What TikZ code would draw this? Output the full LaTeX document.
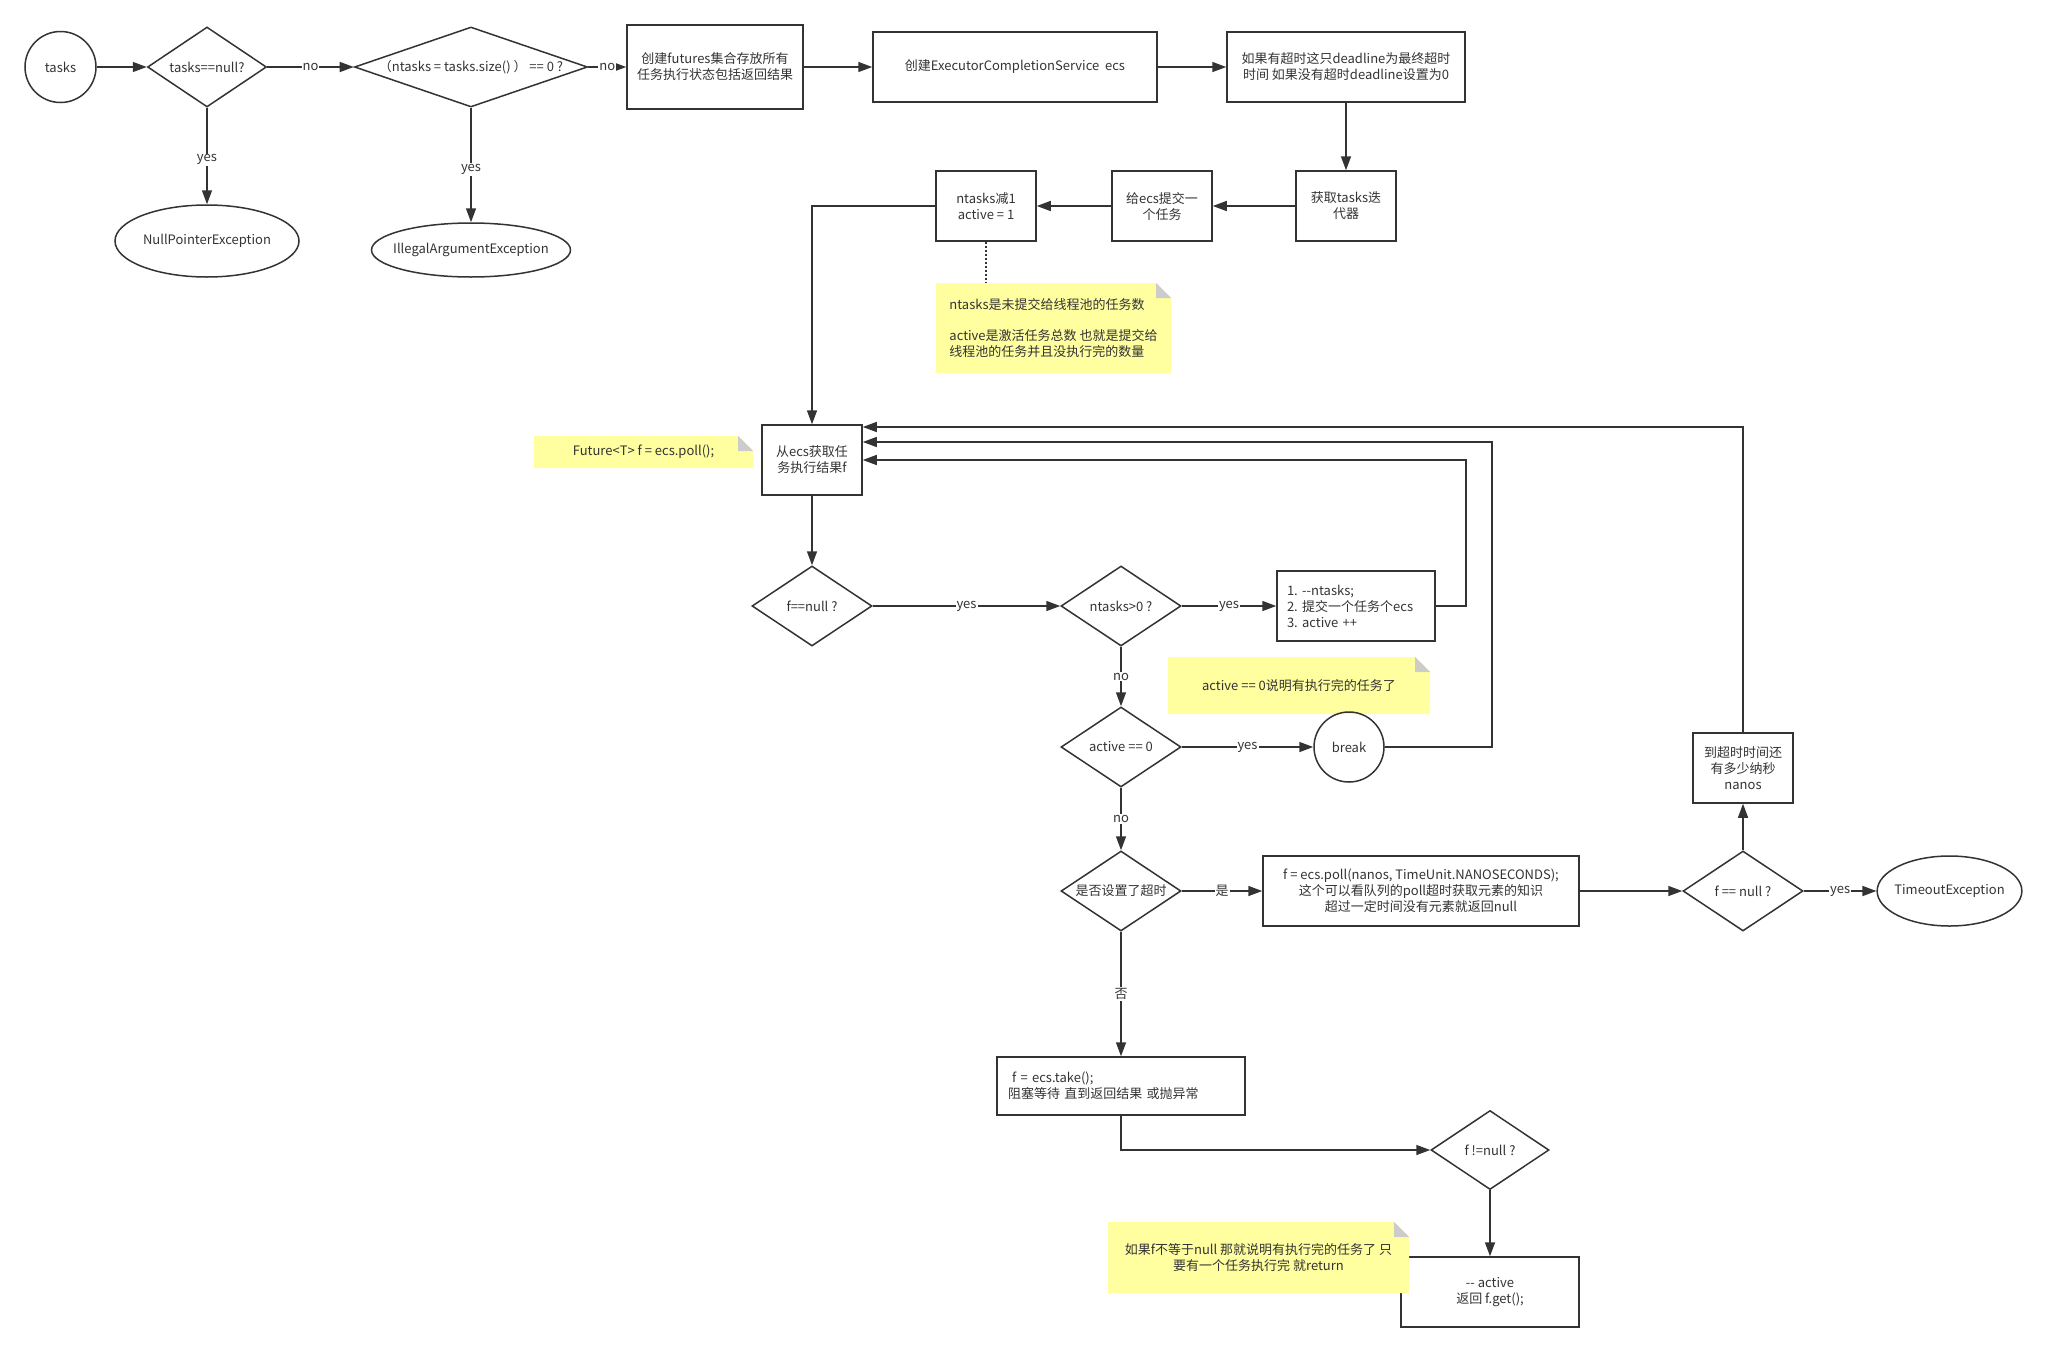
\documentclass[tikz,border=0pt]{standalone}
\usepackage{fontspec}
\setmainfont{Noto Sans CJK SC}
\usetikzlibrary{shapes.geometric, arrows.meta, positioning}

\definecolor{ink}{HTML}{333333}
\definecolor{notefill}{HTML}{FFFFA0}
\definecolor{foldgray}{HTML}{CCCCCC}

\begin{document}
\begin{tikzpicture}[x=1pt, y=-1pt, >={Triangle[length=14pt, width=10pt]},
  every node/.style={font=\fontsize{13}{16}\selectfont\frenchspacing, text=ink},
  proc/.style={rectangle, draw=ink, line width=1.5pt, inner sep=0pt, align=center,
    minimum width=100pt, minimum height=70pt},
  cond/.style={diamond, draw=ink, line width=1.5pt, inner sep=0pt, aspect=1.5,
    minimum width=120pt, minimum height=80pt},
  term/.style={ellipse, draw=ink, line width=1.5pt, inner sep=0pt},
  note/.style={rectangle, fill=white, inner sep=0pt, align=center,
    path picture={
      \fill[notefill] (path picture bounding box.south west) -- (path picture bounding box.north west)
        -- ([xshift=-15pt]path picture bounding box.north east)
        -- ([yshift=-15pt]path picture bounding box.north east)
        -- (path picture bounding box.south east) -- cycle;
      \fill[foldgray] ([xshift=-15pt]path picture bounding box.north east)
        -- ([xshift=-15pt, yshift=-15pt]path picture bounding box.north east)
        -- ([yshift=-15pt]path picture bounding box.north east) -- cycle;
    }},
  flow/.style={draw=ink, line width=1.5pt, ->},
  lbl/.style={fill=white, inner sep=1pt}]
  \useasboundingbox (0,0) rectangle (2045,1352);

  % Input checks
  \node[term, minimum size=71pt] (tasks) at (60.5,67) {tasks};
  \node[cond, minimum width=119pt] (tnull) at (207,67) {tasks==null?};
  \node[cond, minimum width=233pt, aspect=2.9] (zero) at (471,67) {（ntasks = tasks.size() ） == 0 ?};
  \node[term, minimum width=184pt, minimum height=72pt, inner xsep=-6pt] (npe) at (207,241) {NullPointerException};
  \node[term, minimum width=199pt, minimum height=54pt, inner xsep=-10pt] (iae) at (471,250) {IllegalArgumentException};

  % Setup
  \node[proc, minimum width=176pt, minimum height=84pt] (futures) at (715,67) {创建futures集合存放所有\\任务执行状态包括返回结果};
  \node[proc, minimum width=284pt] (ecs) at (1015,67) {创建ExecutorCompletionService\ \ ecs};
  \node[proc, minimum width=238pt] (deadline) at (1346,67) {如果有超时这只deadline为最终超时\\时间 如果没有超时deadline设置为0};
  \node[proc] (iter) at (1346,206) {获取tasks迭\\代器};
  \node[proc] (submit) at (1162,206) {给ecs提交一\\个任务};
  \node[proc] (dec) at (986,206) {ntasks减1\\active = 1};
  \node[note, minimum width=235pt, minimum height=90pt, align=left] (tip1) at (1053.5,328)
    {ntasks是未提交给线程池的任务数\\[15pt]active是激活任务总数 也就是提交给\\线程池的任务并且没执行完的数量};

  % Main loop
  \node[proc] (poll) at (812,460) {从ecs获取任\\务执行结果f};
  \node[note, minimum width=219pt, minimum height=32pt] (tip2) at (643.5,452) {Future<T> f = ecs.poll();};
  \node[cond] (fnull) at (812,606) {f==null ?};
  \node[cond] (gt0) at (1121,606) {ntasks>0 ?};
  \node[proc, minimum width=158pt, text width=138pt, align=left] (steps) at (1356,606)
    {1. -{}-ntasks;\\2. 提交一个任务个ecs\\3. active ++};
  \node[note, minimum width=262pt, minimum height=57pt] (tip3) at (1299,685.5) {active == 0说明有执行完的任务了};
  \node[cond] (act0) at (1121,747) {active == 0};
  \node[term, minimum size=70pt] (brk) at (1349,747) {break};

  % Timeout branch
  \node[cond] (tout) at (1121,891) {是否设置了超时};
  \node[proc, minimum width=316pt] (pollnanos) at (1421,891)
    {f = ecs.poll(nanos, TimeUnit.NANOSECONDS);\\这个可以看队列的poll超时获取元素的知识\\超过一定时间没有元素就返回null};
  \node[cond] (fnull2) at (1743,891) {f == null ?};
  \node[proc] (nanos) at (1743,768) {到超时时间还\\有多少纳秒\\nanos};
  \node[term, minimum width=141pt, minimum height=70pt, inner xsep=-4pt] (texc) at (1949.5,891) {TimeoutException};

  % Blocking branch
  \node[proc, minimum width=248pt, minimum height=58pt, text width=226pt, align=left] (take) at (1121,1086)
    {\hspace*{4pt}f = ecs.take();\\阻塞等待 直到返回结果 或抛异常};
  \node[cond, minimum width=118pt, minimum height=79pt] (fnn) at (1490,1150) {f !=null ?};
  \node[proc, minimum width=178pt] (ret) at (1490,1292) {-{}- active\\返回 f.get();};
  \node[note, minimum width=301pt, minimum height=71pt] (tip4) at (1258.5,1257.5)
    {如果f不等于null 那就说明有执行完的任务了 只\\要有一个任务执行完 就return};

  % Connectors, top
  \draw[flow] (tasks) -- (tnull);
  \draw[flow] (tnull) -- node[lbl] {no} (zero);
  \draw[flow] (tnull) -- node[lbl, pos=0.54] {yes} (npe);
  \draw[flow] (zero) -- node[lbl] {no} (futures);
  \draw[flow] (zero) -- node[lbl, pos=0.54] {yes} (iae);
  \draw[flow] (futures) -- (ecs);
  \draw[flow] (ecs) -- (deadline);
  \draw[flow] (deadline) -- (iter);
  \draw[flow] (iter) -- (submit);
  \draw[flow] (submit) -- (dec);
  \draw[flow] (dec.west) -| (poll.north);
  \draw[ink, line width=1.5pt, dash pattern=on 2pt off 2pt] (dec.south) -- (dec.south |- tip1.north);

  % Connectors, loop
  \draw[flow] (poll) -- (fnull);
  \draw[flow] (fnull) -- node[lbl] {yes} (gt0);
  \draw[flow] (gt0) -- node[lbl] {yes} (steps);
  \draw[flow] (gt0) -- node[lbl] {no} (act0);
  \draw[flow] (act0) -- node[lbl] {yes} (brk);
  \draw[flow] (act0) -- node[lbl] {no} (tout);
  \draw[flow] (steps.east) -- ++(30,0) |- (poll.east);
  \draw[flow] (brk.east) -- ++(107,0) |- ([yshift=18pt]poll.east);
  \draw[flow] (nanos.north) |- ([yshift=33pt]poll.east);

  % Connectors, timeout
  \draw[flow] (tout) -- node[lbl] {是} (pollnanos);
  \draw[flow] (tout) -- node[lbl] {否} (take);
  \draw[flow] (pollnanos) -- (fnull2);
  \draw[flow] (fnull2) -- node[lbl] {yes} (texc);
  \draw[flow] (fnull2) -- (nanos);
  \draw[flow] (take.south) |- (fnn.west);
  \draw[flow] (fnn) -- (ret);
\end{tikzpicture}
\end{document}
